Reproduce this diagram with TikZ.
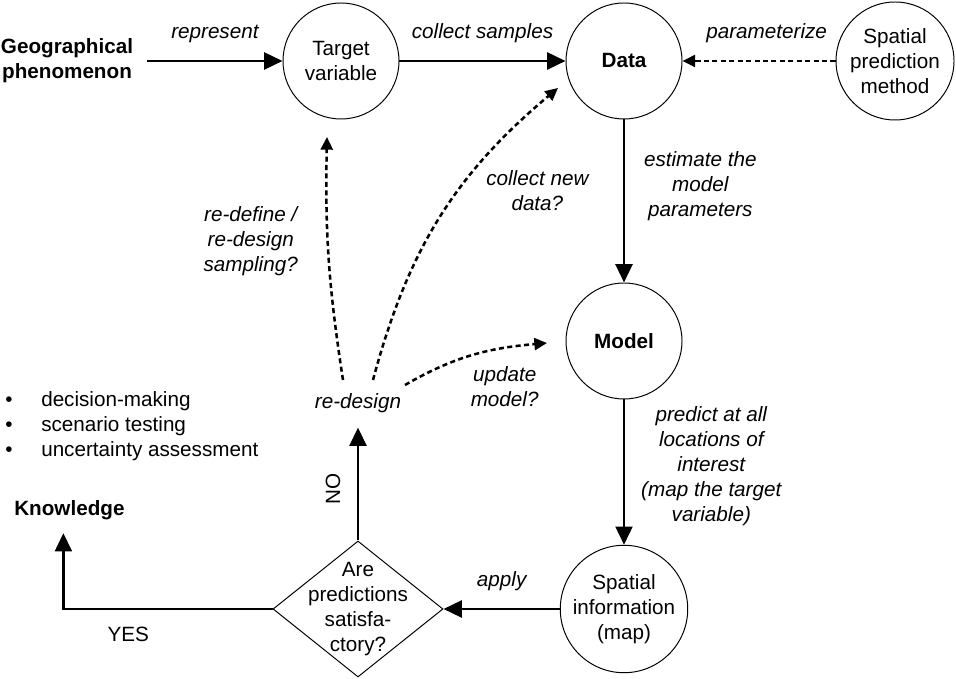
\documentclass[tikz,border=0pt]{standalone}
\usepackage{fontspec}
\setmainfont{Liberation Sans}
\usetikzlibrary{positioning, shapes.geometric, arrows.meta}
\tikzset{
  base/.style={font=\fontsize{14.7}{17.8}\selectfont, align=center},
  st/.style={base, draw, circle, line width=0.7pt, minimum size=2.9cm, inner sep=1pt},
  qst/.style={draw, diamond, line width=0.7pt, minimum width=4.25cm, minimum height=3.4cm, inner sep=0pt},
  tr/.style={-{Triangle[length=13pt, width=12pt]}, line width=1.9pt},
  dtr/.style={-{Triangle[length=9pt, width=8.5pt]}, line width=1.8pt, dash pattern=on 3.6pt off 2.4pt},
  lbl/.style={base, font=\fontsize{14.7}{17.8}\selectfont\itshape},
  hd/.style={base, font=\fontsize{14.7}{17.8}\selectfont\bfseries}
}
\begin{document}
\begin{tikzpicture}
  \useasboundingbox (0,0) rectangle (23.9,16.975);
  % Main chain
  \node[hd, inner sep=0.35cm] (geo) at (1.675,15.45) {Geographical\\phenomenon};
  \node[st] (tv) at (8.525,15.45) {Target\\variable};
  \node[st, hd] (data) at (15.6,15.45) {Data};
  \node[st, minimum size=2.95cm] (spm) at (22.375,15.45) {Spatial\\prediction\\method};
  \node[st, hd] (model) at (15.6,8.45) {Model};
  \node[st, minimum size=3.1cm] (info) at (15.6,1.75) {Spatial\\information\\(map)};
  \node[qst, label={[base]center:Are\\predictions\\satisfa-\\ctory?}] (dec) at (8.95,1.75) {};
  \node[lbl] (rd) at (8.95,6.9) {re-design};
  \node[hd, anchor=west, inner sep=0pt] (know) at (0.35,4.225) {Knowledge};
  \node[base, anchor=west, inner sep=0pt, align=left] (use) at (0.125,6.325)
    {\makebox[0.9cm][l]{\textbullet}decision-making\\
     \makebox[0.9cm][l]{\textbullet}scenario testing\\
     \makebox[0.9cm][l]{\textbullet}uncertainty assessment};
  \draw[tr] (geo.east) -- node[lbl, above=0.3cm]{represent} (tv);
  \draw[tr] (tv) -- node[lbl, above=0.3cm]{collect samples} (data);
  \draw[dtr] (spm) -- node[lbl, above=0.3cm, pos=0.45]{parameterize} (data);
  \draw[tr] (data) -- node[lbl, right=0.35cm, pos=0.41]{estimate the\\model\\parameters} (model);
  \draw[tr] (model) -- node[lbl, right=0.28cm, pos=0.46]{predict at all\\locations of\\interest\\(map the target\\variable)} (info);
  \draw[tr] (info) -- node[lbl, above=0.3cm]{apply} (dec);
  \draw[tr, shorten >=0.25cm] (dec) -- node[base, pos=0.42, xshift=-0.625cm, rotate=90]{NO} (rd);
  \draw[tr] (dec.west) -| node[base, pos=0.345, below=0.3cm]{YES} ([xshift=-0.15cm, yshift=-0.33cm]know.south);
  % Feedback loops
  \draw[dtr] ([shift={(-0.375,0.575)}]rd.center) to[bend left=5] node[lbl, pos=0.58, left=0.6cm]{re-define /\\re-design\\sampling?} ([shift={(-0.35,-1.9)}]tv.center);
  \draw[dtr] ([shift={(0.375,0.575)}]rd.center) to[out=75, in=220] node[lbl, pos=0.6, right=0.55cm]{collect new\\data?} ([shift={(-1.65,-0.675)}]data.center);
  \draw[dtr] ([shift={(1.175,0.45)}]rd.center) to[out=30, in=185] node[lbl, pos=0.73, below=0.3cm]{update\\model?} ([shift={(-1.925,-0.05)}]model.center);
\end{tikzpicture}
\end{document}
